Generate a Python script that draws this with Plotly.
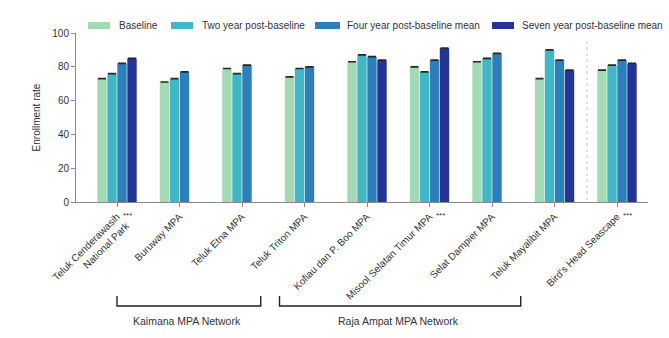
import plotly.graph_objects as go

# Enrollment rate by site and survey period
sites = [
    "Teluk Cenderawasih<br>National Park",
    "Buruway MPA",
    "Teluk Etna MPA",
    "Teluk Triton MPA",
    "Kofiau dan P. Boo MPA",
    "Misool Selatan Timur MPA",
    "Selat Dampier MPA",
    "Teluk Mayalibit MPA",
    "Bird's Head Seascape",
]
baseline = [73, 71, 79, 74, 83, 80, 83, 73, 78]
two_year = [76, 73, 76, 79, 87, 77, 85, 90, 81]
four_year = [82, 77, 81, 80, 86, 84, 88, 84, 84]
seven_year = [85, None, None, None, 84, 91, None, 78, 82]

series_names = [
    "Baseline",
    "Two year post-baseline",
    "Four year post-baseline mean",
    "Seven year post-baseline mean",
]
series_values = [baseline, two_year, four_year, seven_year]
colors = ["#a1dab4", "#41b6c4", "#2c7fb8", "#253494"]

significant_sites = [0, 5, 8]          # sites flagged with ***
networks = [
    ("Kaimana MPA Network", 0.0, 2.3),
    ("Raja Ampat MPA Network", 2.6, 6.46),
]

FONT = "Liberation Sans, Arial, sans-serif"
TEXT = "#333333"
AXIS = "#8a8a8a"

# layout geometry (pixels)
W, H = 669, 338
ML, MR, MT, MB = 76, 21, 33, 136
PW, PH = W - ML - MR, H - MT - MB


def px_x(p):
    return (p - ML) / PW


def px_y(p):
    return (H - MB - p) / PH


x_pos = list(range(len(sites)))

fig = go.Figure()
for name, vals, col in zip(series_names, series_values, colors):
    fig.add_trace(go.Bar(
        x=x_pos,
        y=vals,
        name=name,
        marker=dict(color=col, line=dict(width=0)),
        error_y=dict(type="constant", value=0.15, thickness=1.2,
                     width=4, color="#262626"),
        showlegend=False,
    ))

shapes = []
annotations = []

# legend drawn as swatches with labels along the top
legend_items = [(88, 110, 117), (171, 193, 200), (315, 340, 345), (492, 514, 520)]
for (x0, x1, tx), name, col in zip(legend_items, series_names, colors):
    shapes.append(dict(type="rect", xref="paper", yref="paper",
                       x0=px_x(x0), x1=px_x(x1), y0=px_y(29), y1=px_y(22),
                       fillcolor=col, line=dict(width=0)))
    annotations.append(dict(text=name, xref="paper", yref="paper",
                            x=px_x(tx), y=px_y(25.5), xanchor="left",
                            yanchor="middle", showarrow=False,
                            font=dict(size=10, color=TEXT, family=FONT)))

# significance markers next to the site labels
for i in significant_sites:
    annotations.append(dict(text="***", xref="x", yref="paper",
                            x=i + 0.17, y=px_y(215), xanchor="center",
                            yanchor="middle", showarrow=False,
                            font=dict(size=8, color=TEXT, family=FONT)))

# network brackets beneath the site labels
for label, a, b in networks:
    shapes.append(dict(type="path", xref="x", yref="paper",
                       path=f"M {a},{px_y(296)} L {a},{px_y(306)} "
                            f"L {b},{px_y(306)} L {b},{px_y(296)}",
                       line=dict(color="#222222", width=1.4)))
    annotations.append(dict(text=label, xref="x", yref="paper",
                            x=(a + b) / 2 - 0.03, y=px_y(321),
                            xanchor="center", yanchor="middle",
                            showarrow=False,
                            font=dict(size=10.5, color=TEXT, family=FONT)))

# dotted separator before the seascape-wide group
shapes.append(dict(type="line", xref="x", yref="paper",
                   x0=7.52, x1=7.52, y0=px_y(200), y1=px_y(38),
                   line=dict(color="#c8c8c8", width=1, dash="dot")))

fig.update_layout(
    width=W, height=H,
    margin=dict(l=ML, r=MR, t=MT, b=MB, autoexpand=False),
    paper_bgcolor="white", plot_bgcolor="white",
    barmode="group", bargap=0.36, bargroupgap=0.06,
    font=dict(family=FONT, color=TEXT),
    shapes=shapes, annotations=annotations,
)

fig.update_xaxes(
    range=[-0.656, 8.496],
    tickvals=x_pos, ticktext=sites, tickangle=-45,
    tickfont=dict(size=10, color=TEXT, family=FONT),
    showline=True, linecolor=AXIS, linewidth=1,
    ticks="outside", ticklen=4, tickcolor=AXIS,
    showgrid=False, zeroline=False,
)
fig.update_yaxes(
    range=[0, 100], tickvals=[0, 20, 40, 60, 80, 100],
    tickfont=dict(size=10, color=TEXT, family=FONT),
    title=dict(text="Enrollment rate", standoff=9,
               font=dict(size=10, color=TEXT, family=FONT)),
    showline=True, linecolor=AXIS, linewidth=1,
    ticks="outside", ticklen=4, tickcolor=AXIS,
    showgrid=False, zeroline=False,
)

fig.write_html("out.html")
